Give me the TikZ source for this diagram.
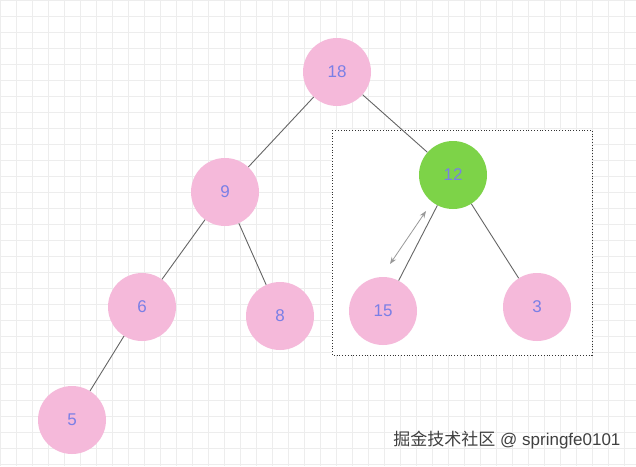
\documentclass[tikz,border=0pt]{standalone}
\usepackage{fontspec}
\setmainfont{Liberation Sans}
\newfontfamily\cjk{Noto Sans CJK SC}
\usetikzlibrary{arrows.meta}
\definecolor{pk}{HTML}{F5B9DA}
\definecolor{gr}{HTML}{7DD348}
\definecolor{tx}{HTML}{7A7FE6}
\tikzset{
 nd/.style={circle,fill=pk,minimum size=68pt,inner sep=0pt,text=tx,font=\fontsize{17}{17}\selectfont},
 edge/.style={draw=black!60,line width=0.9pt}
}
\begin{document}
\begin{tikzpicture}[x=1pt,y=-1pt]
\useasboundingbox (0,0) rectangle (636,466);
\fill[white] (0,0) rectangle (636,466);
\foreach \i in {0,16,...,636} \draw[black!7,line width=0.5pt] (\i,0)--(\i,466);
\foreach \i in {0,16,...,466} \draw[black!7,line width=0.5pt] (0,\i)--(636,\i);
\fill[white] (332,130) rectangle (592,355);
\draw[black!80,dotted,line width=0.8pt] (332,130) rectangle (592,355);
\node[nd] (n18) at (337,72) {18};
\node[nd] (n9) at (225,192) {9};
\node[nd] (n6) at (142,307) {6};
\node[nd] (n8) at (280,316) {8};
\node[nd] (n5) at (72,420) {5};
\node[nd,fill=gr] (n12) at (453,175) {12};
\node[nd] (n15) at (383,311) {15};
\node[nd] (n3) at (537,307) {3};
\draw[edge] (n18)--(n9);
\draw[edge] (n18)--(n12);
\draw[edge] (n9)--(n6);
\draw[edge] (n9)--(n8);
\draw[edge] (n6)--(n5);
\draw[edge] (n12)--(n15);
\draw[edge] (n12)--(n3);
\coordinate (a1) at (390,264);
\coordinate (a2) at (426,211);
\draw[black!40,line width=0.8pt,{Stealth[length=7pt]}-{Stealth[length=7pt]}] (a1)--(a2);
\node[text=black!75,font=\fontsize{17}{17}\selectfont,anchor=east] (wm) at (624,440) {{\cjk 掘金技术社区} @ springfe0101};
\end{tikzpicture}
\end{document}
